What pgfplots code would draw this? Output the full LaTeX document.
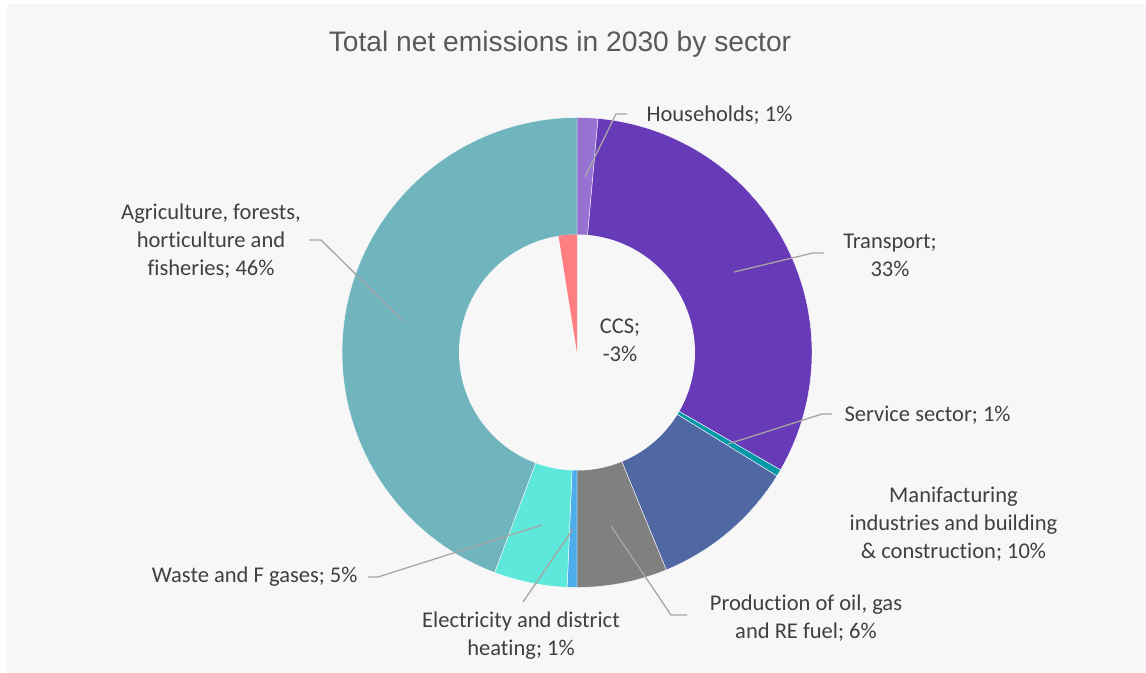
\documentclass[border=0pt]{standalone}
\usepackage{pgfplots}
\pgfplotsset{compat=1.18}
\usepackage{fontspec}
\setmainfont{Carlito}[Ligatures=NoCommon]
\newfontfamily\titlefont{Liberation Sans}

\definecolor{bgc}{HTML}{F7F7F7}
\definecolor{cHH}{HTML}{9673D2}
\definecolor{cTR}{HTML}{673AB7}
\definecolor{cSE}{HTML}{0097A7}
\definecolor{cMA}{HTML}{4F67A3}
\definecolor{cPR}{HTML}{808080}
\definecolor{cEL}{HTML}{4BAEEA}
\definecolor{cWA}{HTML}{5EE8DC}
\definecolor{cAG}{HTML}{70B5BE}
\definecolor{cCC}{HTML}{FF7F80}
\definecolor{txt}{HTML}{404040}
\definecolor{ttl}{HTML}{595959}
\definecolor{lead}{HTML}{A6A6A6}

% shares of the ring (percent of the full circle)
\def\vHH{1.43}  % Households
\def\vTR{31.9}  % Transport
\def\vSE{0.47}  % Service sector
\def\vMA{10.0}  % Manufacturing industries and building & construction
\def\vPR{6.2}   % Production of oil, gas and RE fuel
\def\vEL{0.67}  % Electricity and district heating
\def\vWA{5.03}  % Waste and F gases
\def\vAG{44.3}  % Agriculture, forests, horticulture and fisheries
\def\vCC{2.5}   % CCS (negative, inner pie)

\pgfmathsetmacro\aA{0}
\pgfmathsetmacro\aB{\aA+3.6*\vHH}
\pgfmathsetmacro\aC{\aB+3.6*\vTR}
\pgfmathsetmacro\aD{\aC+3.6*\vSE}
\pgfmathsetmacro\aE{\aD+3.6*\vMA}
\pgfmathsetmacro\aF{\aE+3.6*\vPR}
\pgfmathsetmacro\aG{\aF+3.6*\vEL}
\pgfmathsetmacro\aH{\aG+3.6*\vWA}
\pgfmathsetmacro\aI{\aH+3.6*\vAG}
\pgfmathsetmacro\aCC{360-3.6*\vCC}

\def\cx{577}
\def\cy{320.5}
\def\Ro{235}
\def\Ri{118}

\newcommand\lab{\fontsize{22.6}{28}\selectfont}

\begin{document}
\begin{tikzpicture}
\begin{axis}[name=ax, at={(0,0)}, anchor=south west, scale only axis,
  width=1146bp, height=673bp, xmin=0, xmax=1146, ymin=0, ymax=673,
  hide axis, clip=true,
  wedge/.style={draw=white, line width=0.4pt, samples=90, variable=\t},
  leader/.style={draw=lead, line width=1.3bp, mark=none}]
\addplot[fill=white, draw=none] coordinates {(-5,-5) (1151,-5) (1151,678) (-5,678)} -- cycle;
\addplot[fill=bgc, draw=none] coordinates {(7,-5) (1151,-5) (1151,669) (7,669)} -- cycle;

\addplot[wedge, fill=cHH, domain=\aA:\aB] ({\cx+\Ro*sin(t)}, {\cy+\Ro*cos(t)}) -- (\cx,\cy) -- cycle;
\addplot[wedge, fill=cTR, domain=\aB:\aC] ({\cx+\Ro*sin(t)}, {\cy+\Ro*cos(t)}) -- (\cx,\cy) -- cycle;
\addplot[wedge, fill=cSE, domain=\aC:\aD] ({\cx+\Ro*sin(t)}, {\cy+\Ro*cos(t)}) -- (\cx,\cy) -- cycle;
\addplot[wedge, fill=cMA, domain=\aD:\aE] ({\cx+\Ro*sin(t)}, {\cy+\Ro*cos(t)}) -- (\cx,\cy) -- cycle;
\addplot[wedge, fill=cPR, domain=\aE:\aF] ({\cx+\Ro*sin(t)}, {\cy+\Ro*cos(t)}) -- (\cx,\cy) -- cycle;
\addplot[wedge, fill=cEL, domain=\aF:\aG] ({\cx+\Ro*sin(t)}, {\cy+\Ro*cos(t)}) -- (\cx,\cy) -- cycle;
\addplot[wedge, fill=cWA, domain=\aG:\aH] ({\cx+\Ro*sin(t)}, {\cy+\Ro*cos(t)}) -- (\cx,\cy) -- cycle;
\addplot[wedge, fill=cAG, domain=\aH:\aI] ({\cx+\Ro*sin(t)}, {\cy+\Ro*cos(t)}) -- (\cx,\cy) -- cycle;

% hole
\addplot[fill=bgc, draw=none, samples=180, variable=\t, domain=0:360] ({\cx+\Ri*sin(t)}, {\cy+\Ri*cos(t)}) -- cycle;
% CCS inner wedge
\addplot[fill=cCC, draw=none, samples=20, variable=\t, domain=\aCC:360] ({\cx+\Ri*sin(t)}, {\cy+\Ri*cos(t)}) -- (\cx,\cy) -- cycle;

% leader lines
\addplot[leader] coordinates {(585,496) (616,559) (627,559)};
\addplot[leader] coordinates {(734,401) (813,420) (824,420)};
\addplot[leader] coordinates {(728,229) (822,259) (832,259)};
\addplot[leader] coordinates {(611,147) (671,58) (687,58)};
\addplot[leader] coordinates {(573,144) (523,71)};
\addplot[leader] coordinates {(542,148) (378,96) (368,96)};
\addplot[leader] coordinates {(403,352) (321,433) (309,433)};

% title
\node[anchor=base, text=ttl, font=\titlefont\fontsize{28.3}{34}\selectfont] at (axis cs:560,621) {Total net emissions in 2030 by sector};

% labels
\node[anchor=west, text=txt, font=\lab] at (axis cs:643,558) {Households; 1\%};
\node[align=center, text=txt, font=\lab] at (axis cs:890,418) {Transport;\\33\%};
\node[align=center, text=txt, font=\lab] at (axis cs:620,333) {CCS;\\-3\%};
\node[anchor=west, text=txt, font=\lab] at (axis cs:841,258) {Service sector; 1\%};
\node[align=center, text=txt, font=\lab] at (axis cs:953.5,149) {Manifacturing\\industries and building\\\& construction; 10\%};
\node[align=center, text=txt, font=\lab] at (axis cs:806,55) {Production of oil, gas\\and RE fuel; 6\%};
\node[align=center, text=txt, font=\lab] at (axis cs:521,37.5) {Electricity and district\\heating; 1\%};
\node[anchor=east, text=txt, font=\lab] at (axis cs:361,96) {Waste and F gases; 5\%};
\node[align=center, text=txt, font=\lab] at (axis cs:211,432) {Agriculture, forests,\\horticulture and\\fisheries; 46\%};
\end{axis}
\pgfresetboundingbox
\path (ax.south west) rectangle (ax.north east);
\end{tikzpicture}
\end{document}
